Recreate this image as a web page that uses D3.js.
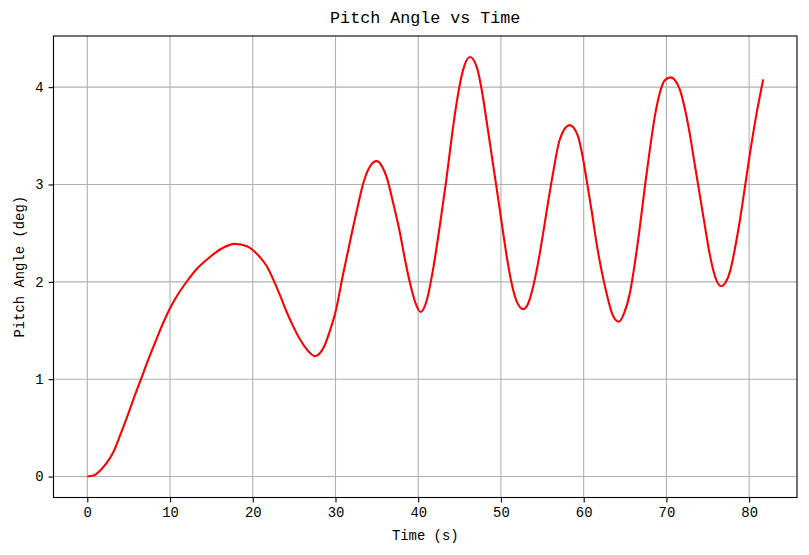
<!DOCTYPE html>
<html>
<head>
<meta charset="utf-8">
<script src="https://cdn.jsdelivr.net/npm/d3@7"></script>
<style>
  html, body { margin: 0; padding: 0; background: #fff; }
  svg { display: block; }
  text { font-family: "Liberation Mono", "DejaVu Sans Mono", monospace; fill: #000; }
</style>
</head>
<body>
<svg id="chart" width="809" height="555"></svg>
<script>
// Data
const timeValues = [0, 0.73, 1.53, 2.34, 3.14, 3.95, 4.76, 5.56, 6.49, 7.37, 8.4, 9.18, 10.06, 10.8, 12.05, 13.2, 14.47, 16.2, 17.8, 19.3, 20.1, 20.9, 21.7, 22.5, 23.35, 24.1, 24.96, 25.7, 26.6, 27.5, 28.6, 29.3, 30.0, 30.9, 31.5, 32.1, 32.7, 33.35, 34.2, 34.97, 35.6, 36.2, 37.0, 37.8, 38.4, 39.0, 39.6, 40.3, 41.0, 41.8, 42.6, 43.4, 44.1, 44.7, 45.4, 46.25, 47.1, 47.7, 48.3, 48.9, 49.5, 50.1, 50.7, 51.3, 51.9, 52.7, 53.3, 53.9, 54.5, 55.1, 55.7, 56.3, 57.1, 58.3, 59.3, 59.8, 60.35, 61.0, 61.55, 62.2, 62.8, 63.5, 64.25, 64.9, 65.6, 66.2, 66.8, 67.4, 68.0, 68.6, 69.2, 69.8, 70.5, 71.6, 72.2, 72.8, 73.4, 74.0, 74.6, 75.2, 75.9, 76.6, 77.2, 77.7, 78.3, 78.9, 79.5, 80.1, 80.9, 81.7];
const pitchValues = [0, 0.01, 0.06, 0.14, 0.25, 0.42, 0.6, 0.79, 1.0, 1.2, 1.42, 1.58, 1.74, 1.85, 2.006, 2.13, 2.23, 2.34, 2.39, 2.365, 2.32, 2.25, 2.16, 2.02, 1.85, 1.69, 1.53, 1.41, 1.3, 1.237, 1.33, 1.49, 1.69, 2.07, 2.31, 2.55, 2.78, 3.01, 3.19, 3.24, 3.19, 3.07, 2.8, 2.5, 2.23, 1.99, 1.8, 1.69, 1.8, 2.13, 2.57, 3.05, 3.52, 3.87, 4.17, 4.31, 4.2, 3.96, 3.63, 3.29, 2.95, 2.6, 2.26, 1.98, 1.8, 1.72, 1.78, 1.955, 2.2, 2.50, 2.82, 3.12, 3.46, 3.61, 3.5, 3.32, 3.05, 2.71, 2.40, 2.1, 1.87, 1.66, 1.59, 1.68, 1.89, 2.2, 2.57, 2.98, 3.36, 3.7, 3.94, 4.07, 4.10, 3.98, 3.79, 3.53, 3.22, 2.91, 2.6, 2.3, 2.05, 1.955, 2.0, 2.11, 2.35, 2.64, 2.98, 3.32, 3.73, 4.08];
const xTicks = [0, 10, 20, 30, 40, 50, 60, 70, 80];
const yTicks = [0, 1, 2, 3, 4];
const titleText = "Pitch Angle vs Time";
const xLabelText = "Time (s)";
const yLabelText = "Pitch Angle (deg)";

const data = timeValues.map((t, i) => ({ t: t, v: pitchValues[i] }));

const svg = d3.select("#chart");
const pLeft = 53.5, pRight = 797, pTop = 36, pBottom = 497.5;

const xMin = d3.min(timeValues), xMax = d3.max(timeValues);
const yMin = d3.min(pitchValues), yMax = d3.max(pitchValues);
const xPad = (xMax - xMin) * 0.05, yPad = (yMax - yMin) * 0.05;

const x = d3.scaleLinear().domain([xMin - xPad, xMax + xPad]).range([pLeft, pRight]);
const y = d3.scaleLinear().domain([yMin - yPad, yMax + yPad]).range([pBottom, pTop]);

// Grid
const grid = svg.append("g");
grid.selectAll("line.gx").data(xTicks).enter().append("line")
  .attr("x1", d => x(d)).attr("x2", d => x(d))
  .attr("y1", pTop).attr("y2", pBottom)
  .attr("stroke", "#b0b0b0").attr("stroke-width", 1.1);
grid.selectAll("line.gy").data(yTicks).enter().append("line")
  .attr("x1", pLeft).attr("x2", pRight)
  .attr("y1", d => y(d)).attr("y2", d => y(d))
  .attr("stroke", "#b0b0b0").attr("stroke-width", 1.1);

// Line
const line = d3.line().x(d => x(d.t)).y(d => y(d.v)).curve(d3.curveMonotoneX);
svg.append("path").datum(data)
  .attr("d", line)
  .attr("fill", "none")
  .attr("stroke", "#ff0000")
  .attr("stroke-width", 2.1)
  .attr("stroke-linejoin", "round")
  .attr("stroke-linecap", "butt");

// Axes
const xAxis = d3.axisBottom(x).tickValues(xTicks).tickFormat(d3.format("d")).tickSize(4.9).tickPadding(4.9);
const yAxis = d3.axisLeft(y).tickValues(yTicks).tickFormat(d3.format("d")).tickSize(4.9).tickPadding(4.9);

const gx = svg.append("g").attr("transform", `translate(0,${pBottom})`).call(xAxis);
const gy = svg.append("g").attr("transform", `translate(${pLeft},0)`).call(yAxis);
[gx, gy].forEach(g => {
  g.select(".domain").remove();
  g.selectAll(".tick line").attr("stroke", "#000").attr("stroke-width", 1.1);
  g.selectAll(".tick text").attr("font-size", "13.9px")
    .attr("font-family", "'Liberation Mono', monospace").attr("fill", "#000");
});

// Frame
svg.append("rect")
  .attr("x", pLeft).attr("y", pTop)
  .attr("width", pRight - pLeft).attr("height", pBottom - pTop)
  .attr("fill", "none").attr("stroke", "#000").attr("stroke-width", 1.1);

// Title and labels
svg.append("text")
  .attr("x", (pLeft + pRight) / 2).attr("y", 23)
  .attr("text-anchor", "middle").attr("font-size", "16.7px")
  .text(titleText);

svg.append("text")
  .attr("x", (pLeft + pRight) / 2).attr("y", 540)
  .attr("text-anchor", "middle").attr("font-size", "13.9px")
  .text(xLabelText);

svg.append("text")
  .attr("transform", `translate(24,${(pTop + pBottom) / 2}) rotate(-90)`)
  .attr("text-anchor", "middle").attr("font-size", "13.9px")
  .text(yLabelText);
</script>
</body>
</html>
